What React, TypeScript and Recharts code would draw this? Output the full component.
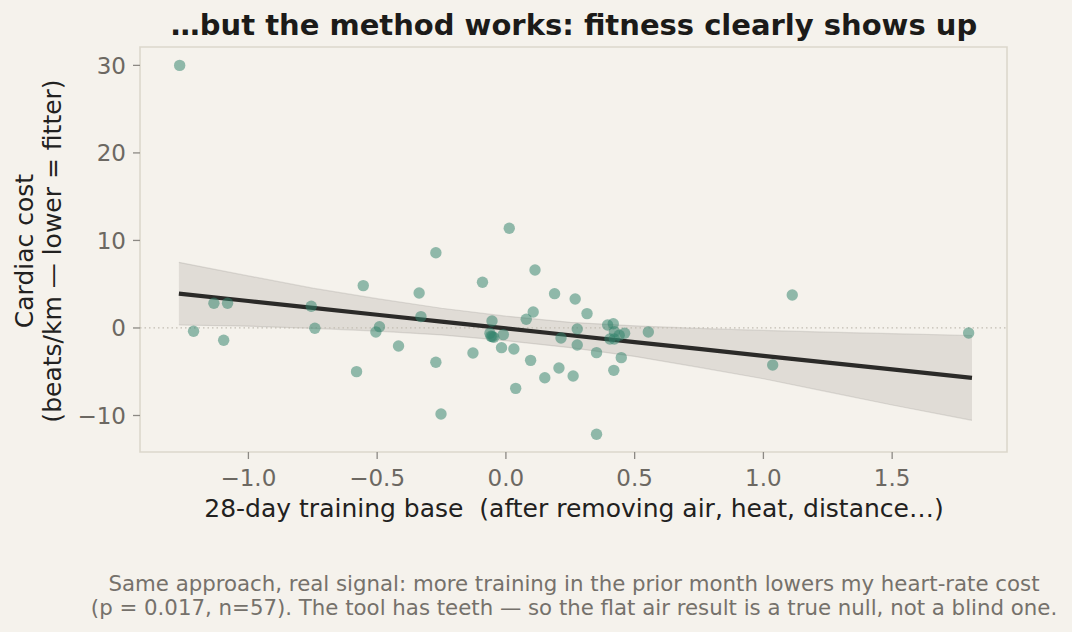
import React from "react";
import {
  ComposedChart,
  XAxis,
  YAxis,
  Area,
  Line,
  Scatter,
  ReferenceLine,
  ReferenceArea,
} from "recharts";

// ---- Data ----
const trainingBase = [
  -1.267, -1.213, -1.134, -1.081, -1.096, -0.756, -0.742, -0.554, -0.58, -0.491,
  -0.505, -0.417, -0.337, -0.33, -0.272, -0.272, -0.252, -0.091, -0.128, -0.054,
  -0.062, -0.053, -0.047, -0.01, -0.017, 0.013, 0.031, 0.038, 0.113, 0.106,
  0.079, 0.096, 0.151, 0.189, 0.214, 0.206, 0.261, 0.269, 0.277, 0.277,
  0.315, 0.352, 0.352, 0.395, 0.417, 0.421, 0.404, 0.421, 0.44, 0.461,
  0.448, 0.419, 0.553, 1.112, 1.036, 1.797, -0.058,
];
const cardiacCost = [
  30.0, -0.38, 2.82, 2.82, -1.41, 2.48, -0.04, 4.84, -4.99, 0.15,
  -0.46, -2.06, 4.0, 1.3, 8.6, -3.92, -9.83, 5.22, -2.86, 0.8,
  -0.61, -0.99, -1.07, -0.76, -2.25, 11.4, -2.4, -6.9, 6.63, 1.83,
  0.99, -3.7, -5.68, 3.92, -1.14, -4.57, -5.49, 3.31, -0.11, -1.94,
  1.64, -2.82, -12.15, 0.34, 0.49, -0.42, -1.26, -1.26, -0.84, -0.61,
  -3.39, -4.84, -0.46, 3.77, -4.23, -0.57, -0.95,
];

// regression fit and confidence band, read at these x positions
const fitX = [-1.27, -1.0, -0.75, -0.5, -0.25, 0.0, 0.25, 0.5, 0.75, 1.0, 1.25, 1.5, 1.81];
const fitY = [3.92, 3.08, 2.29, 1.51, 0.73, -0.05, -0.83, -1.61, -2.39, -3.18, -3.96, -4.74, -5.71];
const bandUpper = [7.5, 5.95, 4.55, 3.35, 2.25, 1.35, 0.65, 0.25, -0.05, -0.28, -0.48, -0.65, -0.86];
const bandLower = [0.34, 0.2, -0.04, -0.35, -0.8, -1.45, -2.25, -3.25, -4.5, -5.8, -7.3, -8.8, -10.55];

const xTicks = [-1.0, -0.5, 0.0, 0.5, 1.0, 1.5];
const yTicks = [-10, 0, 10, 20, 30];
const xDomain: [number, number] = [-1.421, 1.946];
const yDomain: [number, number] = [-14.17, 32.1];

const titleText = "\u2026but the method works: fitness clearly shows up";
const xLabelText = "28-day training base  (after removing air, heat, distance\u2026)";
const yLabelLines = ["Cardiac cost", "(beats/km \u2014 lower = fitter)"];
const captionLines = [
  "Same approach, real signal: more training in the prior month lowers my heart-rate cost",
  "(p = 0.017, n=57). The tool has teeth \u2014 so the flat air result is a true null, not a blind one.",
];

const points = trainingBase.map((x, i) => ({ x, y: cardiacCost[i] }));
const fitTable = fitX.map((x, i) => ({
  x,
  fit: fitY[i],
  band: [bandLower[i], bandUpper[i]],
}));

const BG = "#f5f2ec";
const FONT = "'DejaVu Sans', sans-serif";

const fmt = (v: number, digits: number) => {
  const s = Math.abs(v).toFixed(digits);
  return v < 0 ? "\u2212" + s : s;
};

const Dot = (props: any) => {
  const { cx, cy } = props;
  if (cx == null || cy == null) return null;
  return <circle cx={cx} cy={cy} r={5.7} fill="#32836b" fillOpacity={0.52} />;
};

export default function App() {
  return (
    <div
      style={{
        position: "absolute",
        left: 0,
        top: 0,
        width: 1072,
        height: 632,
        background: BG,
        fontFamily: FONT,
      }}
    >
      <ComposedChart
        width={1072}
        height={632}
        data={fitTable}
        margin={{ top: 47, right: 65, bottom: 150, left: 80 }}
      >
        <ReferenceArea
          x1={xDomain[0]}
          x2={xDomain[1]}
          y1={yDomain[0]}
          y2={yDomain[1]}
          fill={BG}
          fillOpacity={1}
          stroke="#dcd7cc"
          strokeWidth={1.6}
        />
        <XAxis
          dataKey="x"
          type="number"
          domain={xDomain}
          allowDataOverflow
          ticks={xTicks}
          tickFormatter={(v: number) => fmt(v, 1)}
          axisLine={false}
          tickLine={{ stroke: "#8c8984", strokeWidth: 1.3 }}
          tickSize={7}
          tickMargin={11}
          height={30}
          tick={{ fontSize: 23, fill: "#6c6862", fontFamily: FONT }}
        />
        <YAxis
          type="number"
          domain={yDomain}
          allowDataOverflow
          ticks={yTicks}
          tickFormatter={(v: number) => fmt(v, 0)}
          axisLine={false}
          tickLine={{ stroke: "#8c8984", strokeWidth: 1.3 }}
          tickSize={7}
          tickMargin={7}
          width={60}
          tick={{ fontSize: 23, fill: "#6c6862", fontFamily: FONT }}
        />
        <ReferenceLine
          y={0}
          stroke="#c2bdb3"
          strokeWidth={1.3}
          strokeDasharray="1.5 3"
        />
        <Area
          dataKey="band"
          type="linear"
          fill="#8a8680"
          fillOpacity={0.2}
          stroke="#8a8680"
          strokeOpacity={0.22}
          strokeWidth={1.2}
          isAnimationActive={false}
          dot={false}
          activeDot={false}
        />
        <Line
          dataKey="fit"
          type="linear"
          stroke="#2b2a28"
          strokeWidth={4.2}
          dot={false}
          activeDot={false}
          isAnimationActive={false}
        />
        <Scatter
          data={points}
          dataKey="y"
          shape={Dot}
          isAnimationActive={false}
        />
      </ComposedChart>
      <svg
        width={1072}
        height={632}
        style={{ position: "absolute", left: 0, top: 0, pointerEvents: "none" }}
      >
        <text
          x={574}
          y={35}
          textAnchor="middle"
          fontSize={29}
          fontWeight="bold"
          fill="#1c1b19"
          fontFamily={FONT}
        >
          {titleText}
        </text>
        <text
          transform="translate(33,251) rotate(-90)"
          textAnchor="middle"
          fontSize={25}
          fill="#222120"
          fontFamily={FONT}
        >
          {yLabelLines[0]}
        </text>
        <text
          transform="translate(61,251) rotate(-90)"
          textAnchor="middle"
          fontSize={25}
          fill="#222120"
          fontFamily={FONT}
        >
          {yLabelLines[1]}
        </text>
        <text
          x={574}
          y={517}
          textAnchor="middle"
          fontSize={25}
          fill="#222120"
          fontFamily={FONT}
          style={{ whiteSpace: "pre" }}
        >
          {xLabelText}
        </text>
        {captionLines.map((line, i) => (
          <text
            key={i}
            x={574}
            y={591 + i * 24}
            textAnchor="middle"
            fontSize={21.3}
            fill="#75716b"
            fontFamily={FONT}
          >
            {line}
          </text>
        ))}
      </svg>
    </div>
  );
}
